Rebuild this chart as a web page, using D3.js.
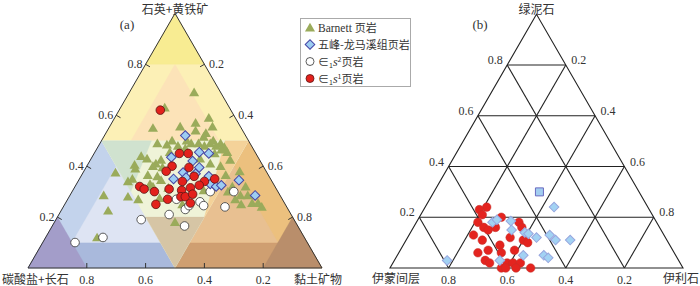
<!DOCTYPE html>
<html><head><meta charset="utf-8">
<script src="https://cdn.jsdelivr.net/npm/d3@7/dist/d3.min.js"></script>
<style>
html,body{margin:0;padding:0;background:#fff;}
svg{display:block;}
.num{font-family:"Liberation Serif","Times New Roman",serif;font-size:12px;fill:#333;}
.cjk{font-family:"Noto Sans CJK SC","Noto Sans",sans-serif;font-size:12px;fill:#333;}
</style></head>
<body>
<svg id="chart" width="700" height="286"></svg>
<script>
// ---------------- DATA ----------------
// Panel (a): [quartz+pyrite, carbonate+feldspar, clay] in %
const barnett = [
 [69,9,22],[63,22,15],[59,9,32],[55,30,15],[55.5,20.5,24],[57,14.5,28.5],[55.5,9.5,35],[54,16,30],
 [51.5,14.5,34],[53,13,34],[49,31.5,19.5],[48.5,28.5,23],[48,25,27],[49,20,31],[49,17.5,33.5],[48,16,36],
 [49,13.5,37.5],[50,12,38],[49,10,41],[47.5,9.5,43],[48,12,40],[50,21,29],[50,26,24],[45.5,9.5,45],
 [45,14,41],[44,39.5,16.5],[42.5,33.5,24],[42.5,10,47.5],[46.5,11,42.5],[40.5,43.5,16],[39,44,17],[35,47,18],
 [37.5,51.5,11],[41,36,23],[40,37.5,22.5],[39.5,34.5,26],[41,17.5,41.5],[40,14.5,45.5],[38,9,53],[36.5,41,22.5],
 [33,42,25],[36,38,26],[34.5,37.5,28],[32,41.5,26.5],[31.5,36.5,32],[34,49,17],[32,14.5,53.5],[32,10,58],
 [28.5,60,11.5],[28,52,20],[27,49,24],[22.5,61.5,16],[27,16,57],[28.5,13.5,58],[28.5,11,60.5],[25,15,60],
 [25.5,11,63.5],[25.5,9,65.5],[24,8.5,67.5],[18,41,41],[12,70.5,17.5],[25,35,40],[27.5,41.5,31],[30.5,25,44.5],
 [43,20,37],[45.5,29,25.5],[36.5,14.5,49],[43,38,19],[47,23,30],[30,17,53]
];
const wufengA = [
 [52,20.5,27.5],[43.5,29.5,27],[45.5,19,35.5],[45,16,39],[42,23,35],[37.5,28.5,34],[39.5,22,38.5],[35,33,32],
 [35.5,28.5,36],[37,24.5,38.5],[36,20.5,43.5],[33,21.5,45.5],[32,20,48],[32.5,18,49.5],[34.5,11,54.5],[28.5,8.5,63]
];
const s2A = [
 [10,79,11],[12,68.5,19.5],[19,52,29],[21,41.5,37.5],[16.5,38.5,45],[27,36,37],[23,35,42],[24.5,33,42.5],
 [26,28.5,45.5],[24.5,28,47.5],[30,23,47],[24,21,55],[30,15,55]
];
const s1A = [
 [62,24,14],[45,26,29],[45,23,32],[40,31,29],[38,34,28],[39.5,25.5,35],[34,30.5,35.5],[36,25.5,38.5],
 [34,23,43],[35,19,46],[32.5,25.5,42],[32,46,22],[31,45,24],[30,42,28],[31,36.5,32.5],[30.5,32.5,37],
 [31.5,29,39.5],[28,34,38],[28,32.5,39.5],[29,29.5,41.5],[27,39,34],[25,44,31],[25.5,32,42.5]
];
// Panel (b): [chlorite, illite/smectite mixed layer, illite] in %
const s1B = [
 [24,55,21],[23,58,19],[21,58,21],[18,61,21],[20,52,28],[16,60,24],[15,59,26],[16,56,28],[18,47,35],
 [16,47,37],[13,65,22],[11,63,26],[12,53,35],[11,49,40],[10,48,42],[9,58,33],[6,67,27],[7,63,30],
 [6,59,35],[7,54,39],[3,66,31],[2,65,33],[2,59,39],[2,57,41],[2,54.5,43.5],[0,62,38],[0,60.5,39.5],
 [0,57,43],[0,52,48]
];
const wufengB = [
 [24,32,44],[18,56,26],[19,54,27],[18.5,49.5,32],[15,51,34],[14,47,39],[13.5,46,40.5],[12,44,44],
 [13,39,48],[11,38,51],[11,33,56],[5,52,43],[5,45,50],[4,44,52],[3,61,36],[3,79,18]
];
const wufengBSquare = [[30,34,36]];
const ticks = [0.2,0.4,0.6,0.8];
const tickLabels = ["0.2","0.4","0.6","0.8"];
const legendLabels = ["Barnett 页岩","五峰-龙马溪组页岩","∈1s2页岩","∈1s1页岩"];
const apexA = "石英+黄铁矿", leftA = "碳酸盐+长石", rightA = "黏土矿物";
const apexB = "绿泥石", leftB = "伊蒙间层", rightB = "伊利石";

// Lithofacies zones of panel (a) in fractions [top, left, right]
const zones = [
 {p:[[1,0,0],[0.5,0.5,0],[0.5,0,0.5]], c:"#fcf0b6"},
 {p:[[0.8,0.1,0.1],[0.5,0.4,0.1],[0.5,0.1,0.4]], c:"#fce3b8"},
 {p:[[1,0,0],[0.8,0.2,0],[0.8,0,0.2]], c:"#f8ec92"},
 {p:[[0,1,0],[0.5,0.5,0],[0,0.5,0.5]], c:"#c3d3ec"},
 {p:[[0.1,0.9,0],[0,1,0],[0,0.5,0.5],[0.1,0.5,0.4]], c:"#a9b9dc"},
 {p:[[0.1,0.8,0.1],[0.4,0.5,0.1],[0.1,0.5,0.4]], c:"#dee4f3"},
 {p:[[0,1,0],[0.2,0.8,0],[0,0.8,0.2]], c:"#a39dc9"},
 {p:[[0,0,1],[0.5,0,0.5],[0,0.5,0.5]], c:"#ecc07e"},
 {p:[[0.1,0,0.9],[0,0,1],[0,0.5,0.5],[0.1,0.4,0.5]], c:"#cf9f71"},
 {p:[[0.1,0.1,0.8],[0.4,0.1,0.5],[0.1,0.4,0.5]], c:"#e8c091"},
 {p:[[0,0,1],[0.2,0,0.8],[0,0.2,0.8]], c:"#b98e6b"},
 {p:[[0.5,0.5,0],[0.5,0,0.5],[0,0.5,0.5]], c:"#eff3d8"},
 {p:[[0.5,0.5,0],[0.5,0.33,0.17],[0.3,0.5,0.2]], c:"#d0e2cf"},
 {p:[[0.5,0,0.5],[0.5,0.08,0.42],[0.2,0.3,0.5]], c:"#f4d299"},
 {p:[[0.2,0.5,0.3],[0.2,0.3,0.5],[0,0.5,0.5]], c:"#d6c5a5"}
];

// ---------------- DRAW ----------------
const svg = d3.select("#chart");
const baseY = 283.5;

function makeTernary(x0, x1, yBase){
  const side = x1 - x0;
  const xs = d3.scaleLinear().domain([0,1]).range([x0,x1]);
  const ys = d3.scaleLinear().domain([0,1]).range([yBase, yBase - side*Math.sqrt(3)/2]);
  const proj = p => { const s = p[0]+p[1]+p[2]; const t=p[0]/s, r=p[2]/s; return [xs(r + t/2), ys(t)]; };
  return {xs, ys, proj};
}
const A = makeTernary(28, 322, 268);
const B = makeTernary(390, 683, 268);

// zones
const gA = svg.append("g");
gA.selectAll("path.zone").data(zones).join("path")
  .attr("d", z => "M" + z.p.map(A.proj).map(q=>q.join(",")).join("L") + "Z")
  .attr("fill", z => z.c).attr("stroke", z => z.c).attr("stroke-width", 0.3);

// outline A
const triA = [[1,0,0],[0,1,0],[0,0,1]].map(A.proj);
gA.append("path").attr("d","M"+triA.map(q=>q.join(",")).join("L")+"Z")
  .attr("fill","none").attr("stroke","#333").attr("stroke-width",1);

// ticks A
const tl = 5, c30 = Math.sqrt(3)/2;
ticks.forEach((t,i)=>{
  let p = A.proj([t,1-t,0]);
  gA.append("line").attr("x1",p[0]).attr("y1",p[1]).attr("x2",p[0]+tl*c30).attr("y2",p[1]+tl*0.5).attr("stroke","#333");
  gA.append("text").attr("class","num").attr("x",p[0]-3).attr("y",p[1]+3.5).attr("text-anchor","end").text(tickLabels[i]);
  p = A.proj([1-t,0,t]);
  gA.append("line").attr("x1",p[0]).attr("y1",p[1]).attr("x2",p[0]-tl*c30).attr("y2",p[1]+tl*0.5).attr("stroke","#333");
  gA.append("text").attr("class","num").attr("x",p[0]+4.5).attr("y",p[1]+3.5).attr("text-anchor","start").text(tickLabels[i]);
  p = A.proj([0,t,1-t]);
  gA.append("line").attr("x1",p[0]).attr("y1",p[1]).attr("x2",p[0]).attr("y2",p[1]-tl).attr("stroke","#333");
  gA.append("text").attr("class","num").attr("x",p[0]).attr("y",baseY).attr("text-anchor","middle").text(tickLabels[i]);
});

// grid B
const gB = svg.append("g");
const triB = [[1,0,0],[0,1,0],[0,0,1]].map(B.proj);
ticks.forEach(t=>{
  const segs = [
    [[t,1-t,0],[t,0,1-t]],
    [[0,t,1-t],[1-t,t,0]],
    [[0,1-t,t],[1-t,0,t]]
  ];
  segs.forEach(s=>{
    const a=B.proj(s[0]), b=B.proj(s[1]);
    gB.append("line").attr("x1",a[0]).attr("y1",a[1]).attr("x2",b[0]).attr("y2",b[1]).attr("stroke","#222").attr("stroke-width",1.1);
  });
});
gB.append("path").attr("d","M"+triB.map(q=>q.join(",")).join("L")+"Z")
  .attr("fill","none").attr("stroke","#222").attr("stroke-width",1.1);
ticks.forEach((t,i)=>{
  let p = B.proj([t,1-t,0]);
  gB.append("text").attr("class","num").attr("x",p[0]-4.5).attr("y",p[1]-1).attr("text-anchor","end").text(tickLabels[i]);
  p = B.proj([1-t,0,t]);
  gB.append("text").attr("class","num").attr("x",p[0]+5.5).attr("y",p[1]-1).attr("text-anchor","start").text(tickLabels[i]);
  p = B.proj([0,t,1-t]);
  gB.append("text").attr("class","num").attr("x",p[0]).attr("y",baseY).attr("text-anchor","middle").text(tickLabels[i]);
});

// symbols
const triSym = d3.symbol().type(d3.symbolTriangle).size(44);
const sqSym = d3.symbol().type(d3.symbolSquare).size(46);
function drawTri(g, data, proj){
  g.selectAll(null).data(data).join("path").attr("d",triSym)
   .attr("transform", d=>{const q=proj(d);return `translate(${q[0]},${q[1]+1})`;})
   .attr("fill","#9aab5b");
}
function drawDia(g, data, proj, fill, stroke, rot=45, sym=sqSym){
  g.selectAll(null).data(data).join("path").attr("d",sym)
   .attr("transform", d=>{const q=proj(d);return `translate(${q[0]},${q[1]}) rotate(${rot})`;})
   .attr("fill",fill).attr("stroke",stroke).attr("stroke-width",1);
}
function drawCirc(g, data, proj, fill, stroke, sw){
  g.selectAll(null).data(data).join("circle")
   .attr("cx",d=>proj(d)[0]).attr("cy",d=>proj(d)[1]).attr("r",4.3)
   .attr("fill",fill).attr("stroke",stroke).attr("stroke-width",sw);
}
const ptsA = svg.append("g");
drawTri(ptsA, barnett, A.proj);
drawCirc(ptsA.append("g"), s2A, A.proj, "#fff", "#333", 0.8);
drawDia(ptsA.append("g"), wufengA, A.proj, "#9dcdf2", "#4545a5");
drawCirc(ptsA.append("g"), s1A, A.proj, "#e3211c", "#5a1515", 0.8);

const ptsB = svg.append("g");
drawCirc(ptsB.append("g"), s1B, B.proj, "#e4241f", "#c0302a", 0.5);
drawDia(ptsB.append("g"), wufengB, B.proj, "#a2d2f3", "#98a6de");
drawDia(ptsB.append("g"), wufengBSquare, B.proj, "#a2cdf0", "#6a6ac0", 0, d3.symbol().type(d3.symbolSquare).size(64));

// titles
svg.append("text").attr("class","cjk").attr("x",175).attr("y",13.5).attr("text-anchor","middle").text(apexA);
svg.append("text").attr("class","num").attr("x",127).attr("y",29).attr("text-anchor","middle").style("font-size","13px").text("(a)");
svg.append("text").attr("class","cjk").attr("x",2).attr("y",baseY).text(leftA);
svg.append("text").attr("class","cjk").attr("x",294).attr("y",baseY).text(rightA);
svg.append("text").attr("class","cjk").attr("x",536.5).attr("y",13.5).attr("text-anchor","middle").text(apexB);
svg.append("text").attr("class","num").attr("x",480).attr("y",29).attr("text-anchor","middle").style("font-size","13px").text("(b)");
svg.append("text").attr("class","cjk").attr("x",372).attr("y",baseY-0.5).text(leftB);
svg.append("text").attr("class","cjk").attr("x",663).attr("y",baseY-0.5).text(rightB);

// legend
const lg = svg.append("g");
lg.append("rect").attr("x",300.5).attr("y",18.5).attr("width",110).attr("height",68)
  .attr("fill","#fff").attr("stroke","#aaa").attr("stroke-width",1);
const ly = [27.5,44.5,61.5,78.5];
lg.append("path").attr("d",triSym).attr("transform",`translate(310,${ly[0]+1})`).attr("fill","#9aab5b");
lg.append("path").attr("d",sqSym).attr("transform",`translate(310,${ly[1]}) rotate(45)`).attr("fill","#9dcdf2").attr("stroke","#4545a5");
lg.append("circle").attr("cx",310).attr("cy",ly[2]).attr("r",4).attr("fill","#fff").attr("stroke","#333").attr("stroke-width",0.8);
lg.append("circle").attr("cx",310).attr("cy",ly[3]).attr("r",4).attr("fill","#e3211c").attr("stroke","#5a1515").attr("stroke-width",0.8);
lg.append("text").attr("x",318).attr("y",ly[0]+4).call(t=>{
  t.append("tspan").attr("class","num").style("font-size","11.5px").text(legendLabels[0].split(" ")[0]+" ");
  t.append("tspan").attr("class","cjk").style("font-size","11px").text(legendLabels[0].split(" ")[1]);
});
lg.append("text").attr("class","cjk").style("font-size","11px").attr("x",318).attr("y",ly[1]+4).text(legendLabels[1]);
[2,3].forEach(k=>{
  const lab = legendLabels[k];
  const t = lg.append("text").attr("x",318).attr("y",ly[k]+4).attr("class","cjk").style("font-size","11px");
  t.append("tspan").text(lab[0]);
  t.append("tspan").attr("dy",2.5).style("font-size","7px").text(lab[1]);
  t.append("tspan").attr("dy",-2.5).attr("class","num").style("font-style","italic").style("font-size","12px").text(lab[2]);
  t.append("tspan").attr("dy",-4).style("font-size","7px").text(lab[3]);
  t.append("tspan").attr("dy",4).text(lab.slice(4));
});
</script>
</body></html>
